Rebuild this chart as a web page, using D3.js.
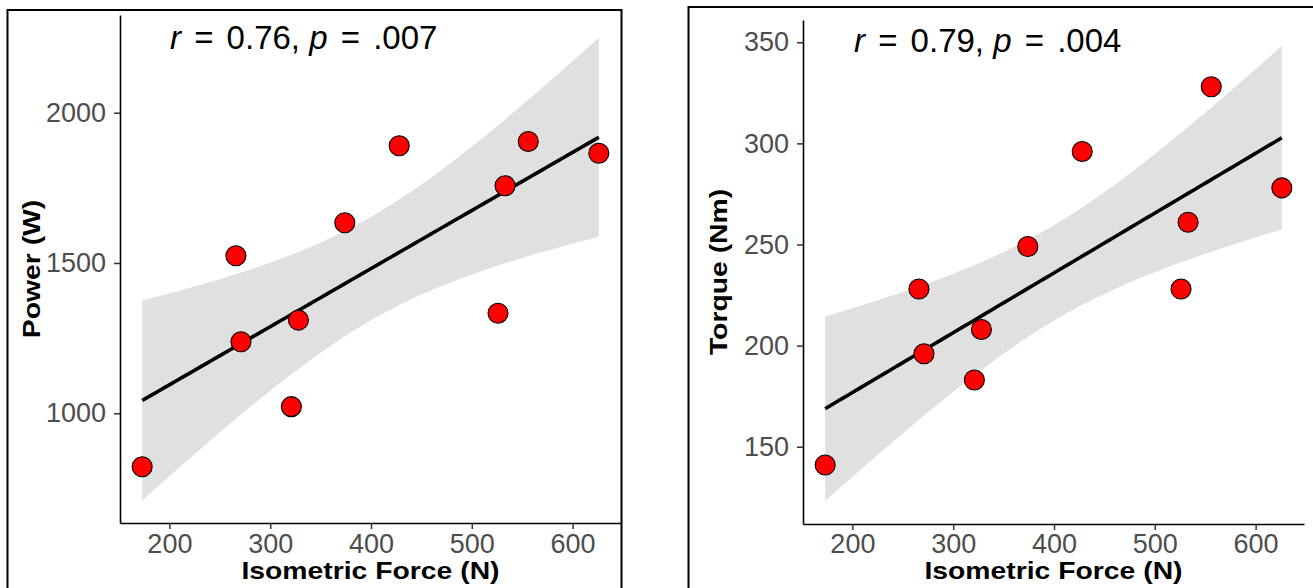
<!DOCTYPE html>
<html lang="en">
<head>
  <meta charset="UTF-8">
  <title>Isometric force correlations</title>
  <style>
    body {
      margin: 0;
      background: white;
      font-family: Arial, "Liberation Sans", sans-serif;
    }
    .tick text {
      fill: #4d4d4d;
      font-size: 27px;
      font-family: Arial, "Liberation Sans", sans-serif;
    }
    .tick line { stroke: #333; stroke-width: 1.5; }
    .domain { stroke: black; stroke-width: 1.6; }
  </style>
</head>
<body>

<svg width="1313" height="588"></svg>

<script src="https://d3js.org/d3.v7.min.js"></script>
<script>

// data (same athletes in both)
let force  = [173, 266, 271, 321, 328, 374, 428, 526, 533, 556, 626];
let power  = [822, 1524, 1238, 1022, 1310, 1634, 1890, 1333, 1757, 1904, 1865];
let torque = [141, 228, 196, 183, 208, 249, 296, 228, 261, 328, 278];

let forceTicks  = [200, 300, 400, 500, 600];
let powerTicks  = [1000, 1500, 2000];
let torqueTicks = [150, 200, 250, 300, 350];

let stats = [
  {r: "0.76", p: ".007"},
  {r: "0.79", p: ".004"}
];

let svg = d3.select("svg");

// linear fit + 95% confidence band, like geom_smooth(method = "lm")
function lmBand(xs, ys) {
  let n = xs.length;
  let mx = d3.mean(xs), my = d3.mean(ys);
  let sxx = d3.sum(xs, x => (x - mx) * (x - mx));
  let sxy = d3.sum(xs, (x, i) => (x - mx) * (ys[i] - my));
  let b = sxy / sxx, a = my - b * mx;
  let rss = d3.sum(xs, (x, i) => Math.pow(ys[i] - (a + b * x), 2));
  let s = Math.sqrt(rss / (n - 2));
  let t = 2.262157; // qt(0.975, 9)
  let lo = d3.min(xs), hi = d3.max(xs);
  return d3.range(80).map(k => {
    let x = lo + (hi - lo) * k / 79;
    let fit = a + b * x;
    let se = s * Math.sqrt(1 / n + (x - mx) * (x - mx) / sxx);
    return {x: x, fit: fit, lo: fit - t * se, hi: fit + t * se};
  });
}

let panels = [
  {ys: power, ticks: powerTicks, ydom: [635, 2325], title: "Power (W)", stat: stats[0],
   frame: [7.5, 10, 614, 640], left: 120, right: 621, top: 15, bottom: 523, xpad: 5,
   ytitleX: 39.5, xtitleY: 579, annX: 170, annY: 49},
  {ys: torque, ticks: torqueTicks, ydom: [111.8, 361], title: "Torque (Nm)", stat: stats[1],
   frame: [688.5, 7, 700, 640], left: 803, right: 1304, top: 20, bottom: 524, xpad: 4,
   ytitleX: 727, xtitleY: 579, annX: 854, annY: 52}
];

panels.forEach(pn => {
  let x = d3.scaleLinear().domain([151, 648]).range([pn.left, pn.right]);
  let y = d3.scaleLinear().domain(pn.ydom).range([pn.bottom, pn.top]);

  svg.append("rect")
      .attr("x", pn.frame[0]).attr("y", pn.frame[1])
      .attr("width", pn.frame[2]).attr("height", pn.frame[3])
      .attr("fill", "none").attr("stroke", "black").attr("stroke-width", 2);

  let g = svg.append("g");
  let band = lmBand(force, pn.ys);

  g.append("path")
      .datum(band)
      .attr("fill", "#e0e0e0")
      .attr("d", d3.area().x(d => x(d.x)).y0(d => y(d.lo)).y1(d => y(d.hi)));

  g.append("path")
      .datum(band)
      .attr("fill", "none")
      .attr("stroke", "black")
      .attr("stroke-width", 3.6)
      .attr("d", d3.line().x(d => x(d.x)).y(d => y(d.fit)));

  g.selectAll("circle")
      .data(force.map((f, i) => [f, pn.ys[i]]))
      .enter()
      .append("circle")
      .attr("cx", d => x(d[0]))
      .attr("cy", d => y(d[1]))
      .attr("r", 10)
      .attr("fill", "#ff0000")
      .attr("stroke", "black")
      .attr("stroke-width", 1.1);

  svg.append("g")
      .attr("transform", "translate(0," + pn.bottom + ")")
      .call(d3.axisBottom(x).tickValues(forceTicks).tickFormat(d3.format("d"))
        .tickSize(6).tickSizeOuter(0).tickPadding(pn.xpad));

  svg.append("g")
      .attr("transform", "translate(" + pn.left + ",0)")
      .call(d3.axisLeft(y).tickValues(pn.ticks).tickFormat(d3.format("d"))
        .tickSize(6).tickSizeOuter(0).tickPadding(8));

  // axis titles (bold, drawn a bit wide like the original export)
  let xt = svg.append("text")
      .attr("x", (pn.left + pn.right) / 2)
      .attr("y", pn.xtitleY)
      .attr("text-anchor", "middle")
      .attr("font-weight", "bold")
      .attr("font-size", 24)
      .text("Isometric Force (N)");
  xt.attr("textLength", xt.node().getComputedTextLength() * 1.18)
    .attr("lengthAdjust", "spacingAndGlyphs");

  let yt = svg.append("text")
      .attr("transform", "translate(" + pn.ytitleX + "," + (pn.top + pn.bottom) / 2 + ") rotate(-90)")
      .attr("text-anchor", "middle")
      .attr("font-weight", "bold")
      .attr("font-size", 24)
      .text(pn.title);
  yt.attr("textLength", yt.node().getComputedTextLength() * 1.18)
    .attr("lengthAdjust", "spacingAndGlyphs");

  // correlation annotation, with the wider spacing around "=" of R plotmath
  let ann = svg.append("text")
      .attr("x", pn.annX)
      .attr("y", pn.annY)
      .attr("font-size", 33)
      .attr("xml:space", "preserve");
  ann.append("tspan").attr("font-style", "italic").text("r");
  ann.append("tspan").attr("dx", 4).text(" =");
  ann.append("tspan").attr("dx", 4).text(" " + pn.stat.r + ", ");
  ann.append("tspan").attr("font-style", "italic").text("p");
  ann.append("tspan").attr("dx", 4).text(" =");
  ann.append("tspan").attr("dx", 4).text(" " + pn.stat.p);
});

</script>

</body>
</html>
